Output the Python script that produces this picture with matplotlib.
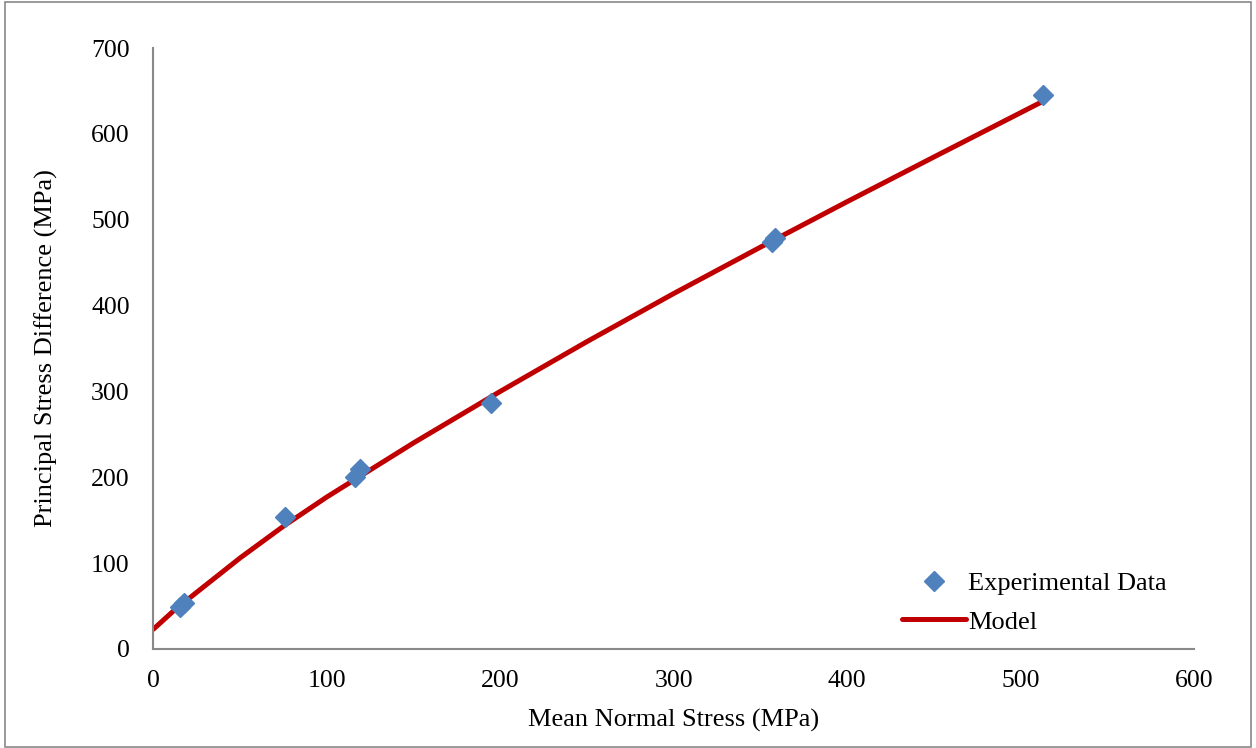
import matplotlib.pyplot as plt
from matplotlib.patches import Rectangle

exp_x = [15.5, 17.4, 75.9, 116.1, 119.4, 194.6, 356.5, 358.5, 513.0]
exp_y = [49.3, 54.0, 153.3, 199.9, 209.5, 286.8, 474.0, 479.0, 645.0]

# Model curve
model_x = [0, 12, 25, 50, 75, 100, 150, 200, 250, 300, 350, 400, 450, 512]
model_y = [23, 45, 66, 106, 143, 177, 240, 300, 358, 414, 468, 521, 573, 637]

plt.rcParams['font.family'] = ['Liberation Serif', 'DejaVu Serif']

fig = plt.figure(figsize=(12.56, 7.48), dpi=100)
ax = fig.add_axes([0.1221, 0.1324, 0.8285, 0.8034])

ax.plot(model_x, model_y, color='#C00000', linewidth=3.6, label='Model', zorder=2,
        solid_capstyle='round', solid_joinstyle='round')
ax.plot(exp_x, exp_y, linestyle='none', marker='D', markersize=10.5,
        color='#4F81BD', label='Experimental Data', zorder=3)

ax.set_xlim(0, 600)
ax.set_ylim(0, 700)
ax.set_xticks(range(0, 601, 100))
ax.set_yticks(range(0, 701, 100))
ax.tick_params(length=0, labelsize=18.5)
ax.tick_params(axis='x', pad=15)
ax.tick_params(axis='y', pad=17)

for side in ['top', 'right']:
    ax.spines[side].set_visible(False)
for side in ['left', 'bottom']:
    ax.spines[side].set_color('#898989')
    ax.spines[side].set_linewidth(1.5)

ax.set_xlabel('Mean Normal Stress (MPa)', fontsize=19, labelpad=12)
ax.set_ylabel('Principal Stress Difference (MPa)', fontsize=19, labelpad=24)

handles, labels = ax.get_legend_handles_labels()
ax.legend(handles[::-1], labels[::-1], loc='lower right', bbox_to_anchor=(0.997, -0.014),
          frameon=False, fontsize=19, handlelength=2.4, handletextpad=0.1,
          labelspacing=0.58)

# outer chart border
fig.patches.append(Rectangle((0.004, 0.002), 0.992, 0.995, transform=fig.transFigure,
                             fill=False, edgecolor='#898989', linewidth=1.2))

fig.savefig('out.png', dpi=100)
